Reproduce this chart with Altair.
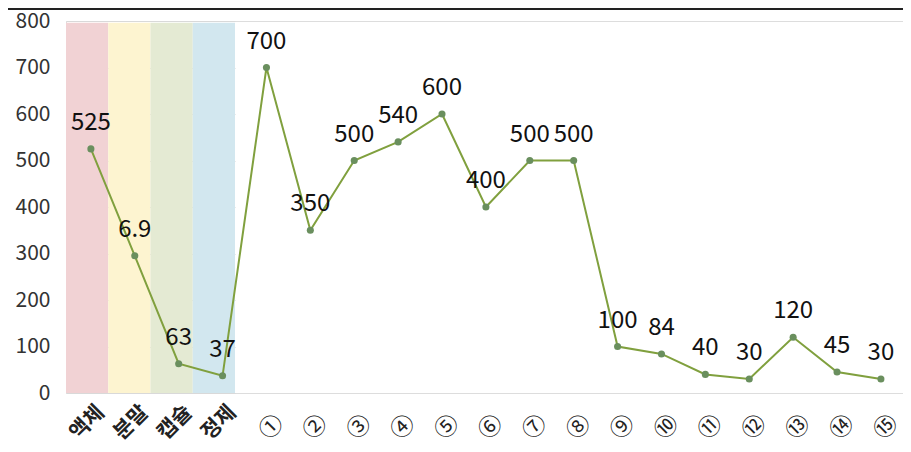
import altair as alt
import pandas as pd

categories = ["액체", "분말", "캡슐", "정제", "①", "②", "③", "④", "⑤", "⑥", "⑦", "⑧", "⑨", "⑩", "⑪", "⑫", "⑬", "⑭", "⑮"]
values = [525, 295, 63, 37, 700, 350, 500, 540, 600, 400, 500, 500, 100, 84, 40, 30, 120, 45, 30]
labels = ["525", "6.9", "63", "37", "700", "350", "500", "540", "600", "400", "500", "500", "100", "84", "40", "30", "120", "45", "30"]

band_cats = ["액체", "분말", "캡슐", "정제"]
band_colors = ["#f1d2d4", "#fdf4d0", "#e4ead3", "#d2e7ef"]
band_top = [796, 796, 796, 796]

FONT = "Noto Sans CJK KR"

df = pd.DataFrame({"cat": categories, "value": values, "label": labels})
bands = pd.DataFrame({"cat": band_cats, "color": band_colors, "top": band_top})

is_korean = "indexof(['액체','분말','캡슐','정제'], datum.value) >= 0"

def cond(k, other):
    return {"condition": {"test": is_korean, "value": k}, "value": other}

xscale = alt.Scale(type="point", domain=categories, padding=0.535, align=0.53)
x = alt.X("cat:N", scale=xscale, sort=categories, title=None,
          axis=alt.Axis(orient="bottom", labelAngle=-45,
                        labelFontSize=cond(21, 23),
                        labelFontWeight=cond("bold", "normal"),
                        labelPadding=cond(8, 18),
                        labelOffset=cond(2, 5),
                        labelColor="#222", labelFont=FONT, ticks=False, domain=False,
                        grid=False))
yscale = alt.Scale(domain=[0, 800])
yaxis = alt.Axis(values=[0, 100, 200, 300, 400, 500, 600, 700, 800], labelFontSize=21,
                 labelColor="#333", labelFont=FONT, ticks=False, domain=False,
                 gridColor="#d9d9d9", gridWidth=1, labelPadding=16)

band_layer = alt.Chart(bands).mark_bar().encode(
    x=alt.X("cat:N", sort=band_cats, axis=None,
            scale=alt.Scale(domain=band_cats, range=[0, 169], paddingInner=0, paddingOuter=0)),
    y=alt.Y("top:Q", scale=yscale, axis=yaxis, title=None),
    color=alt.Color("color:N", scale=None),
)

line = alt.Chart(df).mark_line(color="#80a03e", strokeWidth=2).encode(
    x=x, y=alt.Y("value:Q", scale=yscale, axis=yaxis, title=None)
)
pts = alt.Chart(df).mark_circle(color="#6a8f5e", size=50, opacity=1).encode(
    x=x, y=alt.Y("value:Q", scale=yscale)
)
txt = alt.Chart(df).mark_text(dy=-26, fontSize=24, font=FONT, color="#111").encode(
    x=x, y=alt.Y("value:Q", scale=yscale), text="label:N"
)
topline = alt.Chart(df).mark_rule(color="#222", strokeWidth=2).encode(
    x=alt.value(-58), x2=alt.value(837), y=alt.value(-12.5)
)

main = alt.layer(line, pts, txt, topline)

chart = alt.layer(band_layer, main).resolve_scale(x="independent").properties(
    width=837, height=372,
    padding={"left": 58, "top": 13, "right": 0, "bottom": 51},
    autosize=alt.AutoSizeParams(type="none"),
).configure_view(stroke=None).configure(background="white")

chart.save("out.html", embed_options={"renderer": "svg", "actions": False})
